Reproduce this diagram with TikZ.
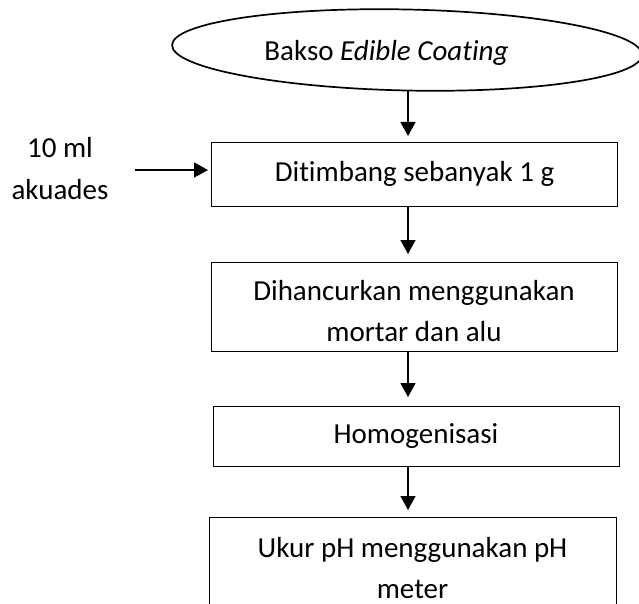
\documentclass[tikz,border=0pt]{standalone}
\usepackage{fontspec}
\setmainfont{Carlito}[RawFeature={-liga;-clig}]
\usetikzlibrary{arrows.meta,shapes.geometric}
\begin{document}
\begin{tikzpicture}[x=1pt,y=-1pt,
  box/.style={draw,line width=1.3pt,rectangle,inner sep=0pt,anchor=north west},
  lbl/.style={font=\fontsize{29}{41}\selectfont,anchor=base,inner sep=0pt},
  arr/.style={line width=1.5pt,-{Triangle[length=14pt,width=15pt]}}]
\useasboundingbox (0,0) rectangle (639,604);

% start ellipse
\node[draw,ellipse,line width=1.7pt,minimum width=470pt,minimum height=81pt,inner sep=0pt,rotate=-1.2] (ell) at (407,50) {};
\node[lbl] (t0) at (386.5,61) {Bakso \textit{Edible Coating}};

% boxes
\node[box,minimum width=406pt,minimum height=64pt] (b1) at (211,142) {};
\node[lbl] (t1) at (414.5,182) {Ditimbang sebanyak 1 g};

\node[box,minimum width=406pt,minimum height=89pt] (b2) at (211,262) {};
\node[lbl] (t2a) at (414,300) {Dihancurkan menggunakan};
\node[lbl] (t2b) at (414,341) {mortar dan alu};

\node[box,minimum width=406pt,minimum height=60pt] (b3) at (213,406) {};
\node[lbl] (t3) at (416,443) {Homogenisasi};

\node[box,minimum width=407pt,minimum height=120pt] (b4) at (209,517) {};
\node[lbl] (t4a) at (412.5,557) {Ukur pH menggunakan pH};
\node[lbl] (t4b) at (412.5,598) {meter};

% side input
\node[lbl] (aq1) at (60,158) {10 ml};
\node[lbl] (aq2) at (60,199) {akuades};

% connectors
\coordinate (ax) at (408,0);
\coordinate (lin) at (135,170);
\draw[arr,shorten >=6pt] (ell.south -| ax) -- (b1.north -| ax);
\draw[arr,shorten >=8pt] (b1.south -| ax) -- (b2.north -| ax);
\draw[arr,shorten >=9pt] (b2.south -| ax) -- (b3.north -| ax);
\draw[arr,shorten >=7pt] (b3.south -| ax) -- (b4.north -| ax);
\draw[arr,shorten >=3pt] (lin) -- (lin -| b1.west);
\end{tikzpicture}
\end{document}
